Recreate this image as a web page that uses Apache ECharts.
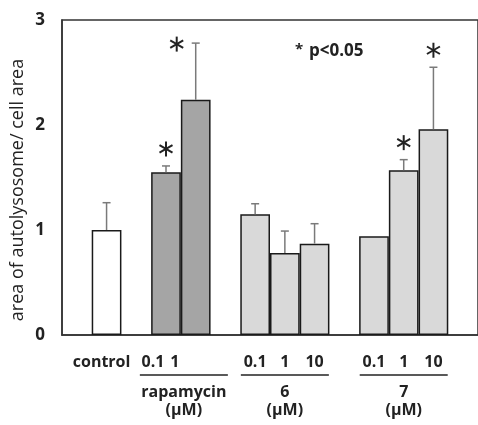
<!DOCTYPE html>
<html>
<head>
<meta charset="utf-8">
<script src="https://cdn.jsdelivr.net/npm/echarts@6/dist/echarts.min.js"></script>
<style>
  html, body { margin: 0; padding: 0; background: #fff; }
  #chart { width: 478px; height: 425px; }
</style>
</head>
<body>
<div id="chart"></div>
<script>
// slots on the x axis, blanks are the gaps between groups
const categories = ['', 'control', '', '0.1', '1', '', '0.1', '1', '10', '', '0.1', '1', '10', ''];
const groupOf = [null, 'control', null, 'rapamycin', 'rapamycin', null, '6', '6', '6', null, '7', '7', '7', null];
const means = [null, 1.00, null, 1.55, 2.24, null, 1.15, 0.78, 0.87, null, 0.94, 1.57, 1.96, null];
const errors = [null, 0.26, null, 0.06, 0.54, null, 0.10, 0.21, 0.19, null, 0.01, 0.10, 0.59, null];
const significant = [false, false, false, true, true, false, false, false, false, false, false, true, true, false];
const groups = [
  { name: 'rapamycin', unit: '(μM)', from: 3, to: 4 },
  { name: '6', unit: '(μM)', from: 6, to: 8 },
  { name: '7', unit: '(μM)', from: 10, to: 12 }
];
const yTicks = [0, 1, 2, 3];
const yTitle = 'area of autolysosome/ cell area';
const noteText = 'p<0.05';

const FONT = '"Open Sans", "DejaVu Sans", sans-serif';
const INK = '#222';
const groupColor = { control: '#ffffff', rapamycin: '#a5a5a5', '6': '#d9d9d9', '7': '#d9d9d9' };
// rapamycin labels sit a bit left of their bars in the original
const labelShift = { 1: 10, 3: 26, 4: 42 };

const chart = echarts.init(document.getElementById('chart'));

const barData = means.map((m, i) => m == null ? null : {
  value: m,
  itemStyle: { color: groupColor[groupOf[i]] }
});
const errData = [];
means.forEach((m, i) => { if (m != null && errors[i] > 0.02) errData.push([i, m, m + errors[i]]); });
const starData = [];
means.forEach((m, i) => { if (significant[i]) starData.push([i, m + errors[i]]); });

const rich = {};
Object.keys(labelShift).forEach(k => {
  rich['s' + k] = { fontFamily: FONT, fontSize: 16, fontWeight: 'bold', color: INK, padding: [0, labelShift[k], 0, 0] };
});

chart.setOption({
  animation: false,
  grid: { left: 62, right: -10, top: 20, bottom: 90, show: true, borderColor: '#333', borderWidth: 1.5 },
  xAxis: {
    type: 'category',
    data: categories,
    axisLine: { lineStyle: { color: '#333', width: 1.5 } },
    axisTick: { show: false },
    axisLabel: {
      interval: 0, margin: 19,
      fontFamily: FONT, fontSize: 16, fontWeight: 'bold', color: INK,
      formatter: (v, i) => labelShift[i] ? '{s' + i + '|' + v + '}' : v,
      rich: rich
    }
  },
  yAxis: {
    type: 'value', min: yTicks[0], max: yTicks[yTicks.length - 1], interval: 1,
    axisLine: { show: true, lineStyle: { color: '#333', width: 1.5 } },
    axisTick: { show: false },
    splitLine: { show: false },
    axisLabel: { margin: 17, fontFamily: FONT, fontSize: 17, fontWeight: 'bold', color: INK }
  },
  series: [
    {
      type: 'bar',
      data: barData,
      barWidth: '100%',
      itemStyle: { borderColor: '#1a1a1a', borderWidth: 1.5 }
    },
    {
      type: 'custom',
      data: errData,
      z: 3,
      renderItem: (params, api) => {
        const a = api.coord([api.value(0), api.value(1)]);
        const b = api.coord([api.value(0), api.value(2)]);
        const st = { stroke: '#7a7a7a', lineWidth: 1.5 };
        return {
          type: 'group',
          children: [
            { type: 'line', shape: { x1: a[0], y1: a[1], x2: b[0], y2: b[1] }, style: st },
            { type: 'line', shape: { x1: b[0] - 4, y1: b[1], x2: b[0] + 4, y2: b[1] }, style: st }
          ]
        };
      }
    },
    {
      type: 'custom',
      data: starData,
      z: 4,
      renderItem: (params, api) => {
        const p = api.coord([api.value(0), api.value(1)]);
        let cx = p[0], cy = p[1] - 17;
        if (cy < 40) { cx = p[0] - 19; cy = p[1] + 1; }
        const r = 7.5;
        const st = { stroke: INK, lineWidth: 2 };
        const children = [90, 30, 150].map(deg => {
          const t = deg * Math.PI / 180;
          return { type: 'line', shape: { x1: cx - r * Math.cos(t), y1: cy - r * Math.sin(t), x2: cx + r * Math.cos(t), y2: cy + r * Math.sin(t) }, style: st };
        });
        return { type: 'group', children: children };
      }
    }
  ]
});

// group labels under the category labels
const graphics = [];
groups.forEach(g => {
  const x1 = chart.convertToPixel({ xAxisIndex: 0 }, g.from);
  const x2 = chart.convertToPixel({ xAxisIndex: 0 }, g.to);
  const cx = (x1 + x2) / 2 + (g.from === 3 ? 3 : 0);
  graphics.push({ type: 'line', shape: { x1: cx - 44, y1: 375, x2: cx + 44, y2: 375 }, style: { stroke: INK, lineWidth: 1.5 } });
  graphics.push({ type: 'text', x: cx, y: 392, style: { text: g.name, fontFamily: FONT, fontSize: 16, fontWeight: 'bold', fill: INK, align: 'center', verticalAlign: 'middle' } });
  graphics.push({ type: 'text', x: cx, y: 410, style: { text: g.unit, fontFamily: FONT, fontSize: 16, fontWeight: 'bold', fill: INK, align: 'center', verticalAlign: 'middle' } });
});
graphics.push({ type: 'text', x: 18, y: 190, rotation: Math.PI / 2, style: { text: yTitle, fontFamily: FONT, fontSize: 18, fill: INK, align: 'center', verticalAlign: 'middle' } });
graphics.push({ type: 'text', x: 295, y: 42, style: { text: '*', fontFamily: FONT, fontSize: 15, fontWeight: 'bold', fill: INK } });
graphics.push({ type: 'text', x: 309, y: 51, style: { text: noteText, fontFamily: FONT, fontSize: 17, fontWeight: 'bold', fill: INK, verticalAlign: 'middle' } });
chart.setOption({ graphic: graphics });
</script>
</body>
</html>
